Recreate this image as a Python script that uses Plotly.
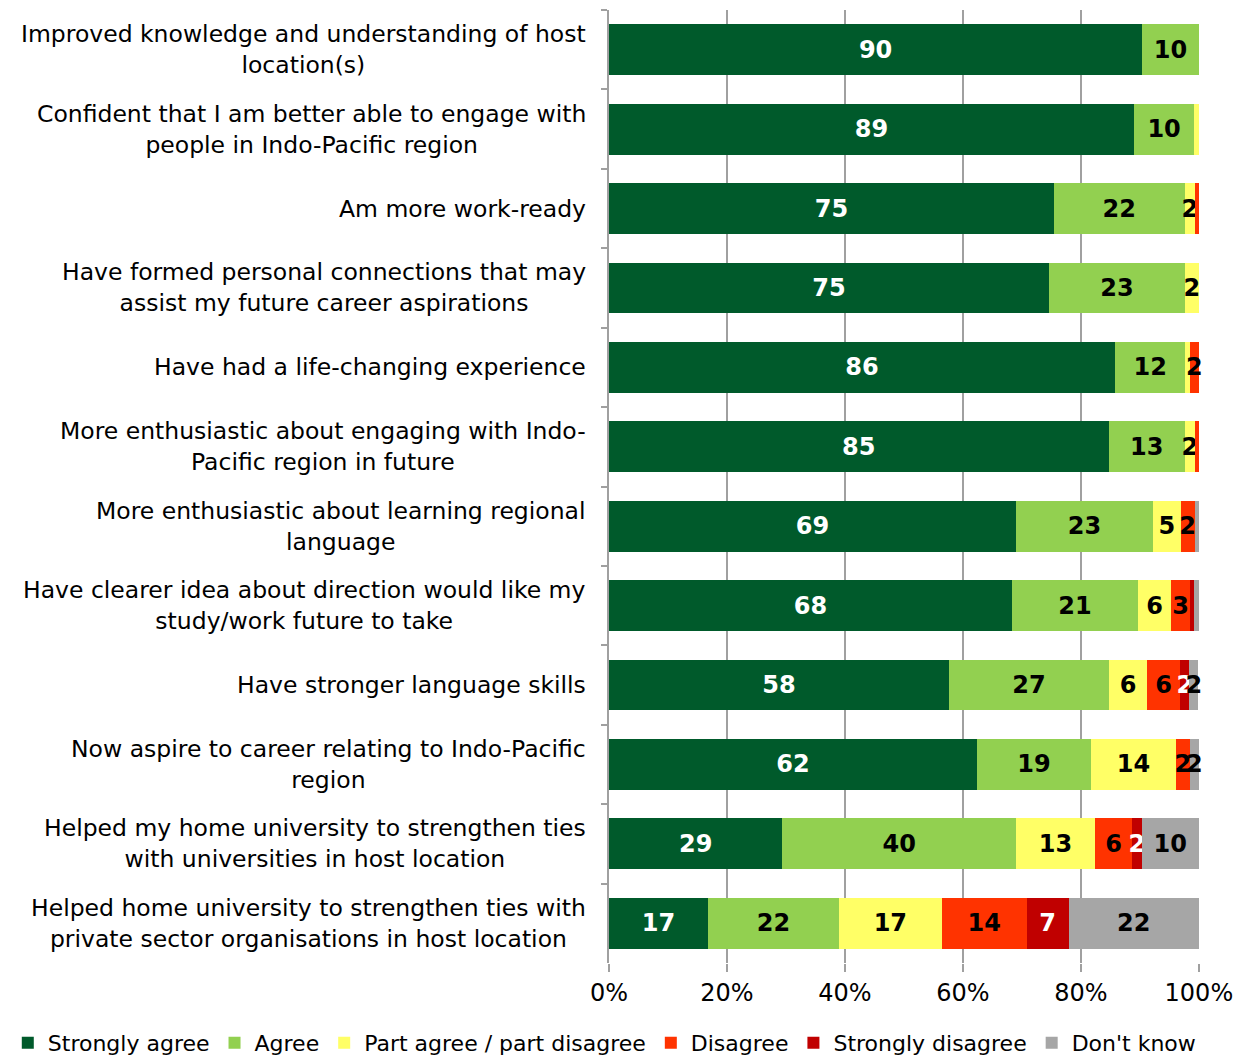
import plotly.graph_objects as go

categories = [
    "Improved knowledge and understanding of host<br>location(s)",
    "Confident that I am better able to engage with<br>people in Indo-Pacific region",
    "Am more work-ready",
    "Have formed personal connections that may<br>assist my future career aspirations",
    "Have had a life-changing experience",
    "More enthusiastic about engaging with Indo-<br>Pacific region in future",
    "More enthusiastic about learning regional<br>language",
    "Have clearer idea about direction would like my<br>study/work future to take",
    "Have stronger language skills",
    "Now aspire to career relating to Indo-Pacific<br>region",
    "Helped my home university to strengthen ties<br>with universities in host location",
    "Helped home university to strengthen ties with<br>private sector organisations in host location",
]

strongly_agree = [90.4, 89.0, 75.4, 74.6, 85.8, 84.7, 69.0, 68.3, 57.6, 62.4, 29.4, 16.8]
agree = [9.6, 10.2, 22.2, 23.0, 11.9, 12.9, 23.2, 21.4, 27.2, 19.3, 39.6, 22.2]
part_agree = [0.0, 0.8, 1.7, 2.4, 0.8, 1.7, 4.7, 5.6, 6.4, 14.4, 13.4, 17.4]
disagree = [0.0, 0.0, 0.7, 0.0, 1.5, 0.7, 2.4, 3.2, 5.6, 2.4, 6.3, 14.4]
strongly_disagree = [0.0, 0.0, 0.0, 0.0, 0.0, 0.0, 0.0, 0.75, 1.6, 0.0, 1.6, 7.1]
dont_know = [0.0, 0.0, 0.0, 0.0, 0.0, 0.0, 0.7, 0.75, 1.5, 1.5, 9.7, 22.1]

series_names = ["Strongly agree", "Agree", "Part agree / part disagree",
                "Disagree", "Strongly disagree", "Don't know"]
tick_vals = [0, 20, 40, 60, 80, 100]
tick_text = ["0%", "20%", "40%", "60%", "80%", "100%"]

series = [
    (series_names[0], strongly_agree, "#005A2B", "white"),
    (series_names[1], agree, "#92D050", "black"),
    (series_names[2], part_agree, "#FFFF66", "black"),
    (series_names[3], disagree, "#FF3300", "black"),
    (series_names[4], strongly_disagree, "#C00000", "white"),
    (series_names[5], dont_know, "#A6A6A6", "black"),
]

FONT = "DejaVu Sans"
FS_CAT = 23.5
FS_LBL = 24
FS_TICK = 24
FS_LEG = 22

def label(v):
    return str(int(v + 0.5)) if v >= 1.45 else ""

fig = go.Figure()
for name, vals, color, tcolor in series:
    fig.add_trace(go.Bar(
        y=categories, x=vals, name=name, orientation="h",
        marker=dict(color=color, line=dict(width=0)),
        text=[label(v) for v in vals],
        textposition="inside", insidetextanchor="middle",
        textfont=dict(family=FONT, size=FS_LBL, color=tcolor, weight="bold"),
        cliponaxis=False,
        hoverinfo="skip",
    ))

for c in categories:
    fig.add_annotation(
        x=0, xref="paper", y=c, yref="y", xshift=-21,
        xanchor="right", align="center", text=c, showarrow=False,
        font=dict(family=FONT, size=FS_CAT, color="black"),
    )

fig.update_layout(
    barmode="stack", bargap=0.36,
    width=1257, height=1057,
    margin=dict(l=609, r=58, t=10, b=94, autoexpand=False),
    plot_bgcolor="white", paper_bgcolor="white",
    uniformtext=dict(minsize=FS_LBL, mode="show"),
    font=dict(family=FONT, size=FS_CAT, color="black"),
    legend=dict(
        orientation="h", traceorder="normal",
        xref="paper", yref="paper",
        x=-1.019, xanchor="left", y=-0.084, yanchor="middle",
        font=dict(family=FONT, size=FS_LEG, color="black"),
        itemwidth=30, tracegroupgap=0,
    ),
    showlegend=True,
)
fig.update_xaxes(
    range=[0, 100.02], tickvals=tick_vals, ticktext=tick_text,
    showgrid=True, gridcolor="#A0A0A0", gridwidth=1.5,
    ticks="outside", ticklen=8, tickcolor="#A0A0A0", tickwidth=1.5,
    showline=False, zeroline=False,
    tickfont=dict(family=FONT, size=FS_TICK, color="black"),
)
fig.update_yaxes(
    autorange="reversed", showticklabels=False,
    tickson="boundaries", ticks="outside", ticklen=6,
    tickcolor="#A0A0A0", tickwidth=2,
    showline=True, linecolor="#A0A0A0", linewidth=2,
    showgrid=False, zeroline=False,
)

fig.write_html("out.html",
               config={"displayModeBar": False},
               post_script="document.body.style.margin='0px';document.body.style.overflow='hidden';")
